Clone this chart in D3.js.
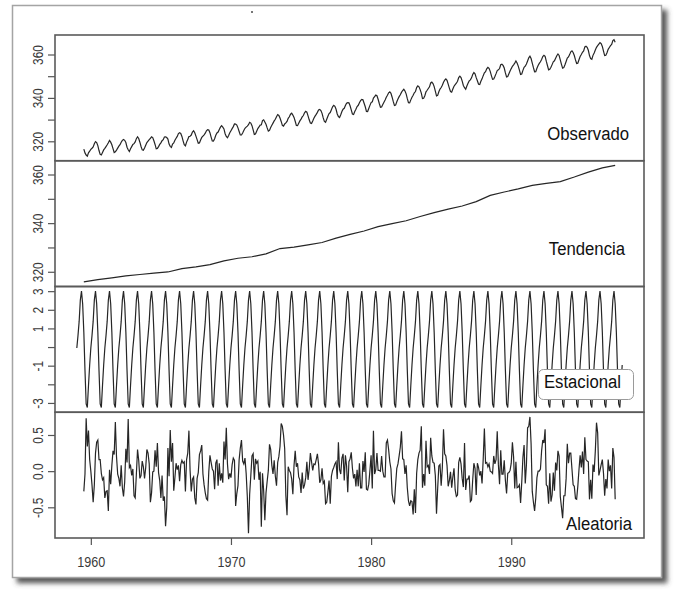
<!DOCTYPE html>
<html>
<head>
<meta charset="utf-8">
<script src="https://cdn.jsdelivr.net/npm/d3@7"></script>
<style>
body { margin: 0; background: #fff; }
text { font-family: "Liberation Sans", Arial, sans-serif; }
</style>
</head>
<body>
<script>
let width = 696
let height = 592

// serie mensual, enero 1959 - diciembre 1997
const inicio = 1959
const fin = 1997 + 11 / 12

// CO2 observado (ppm), una fila por año
const co2 = [
  315.42, 316.31, 316.50, 317.56, 318.13, 318.00, 316.39, 314.65, 313.68, 313.18, 314.66, 315.43,
  316.27, 316.81, 317.42, 318.87, 319.87, 319.43, 318.01, 315.74, 314.00, 313.68, 314.84, 316.03,
  316.73, 317.54, 318.38, 319.31, 320.42, 319.61, 318.42, 316.63, 314.83, 315.16, 315.94, 316.85,
  317.78, 318.40, 319.53, 320.42, 320.85, 320.45, 319.45, 317.25, 316.11, 315.27, 316.53, 317.53,
  318.58, 318.92, 319.70, 321.22, 322.08, 321.31, 319.58, 317.61, 316.05, 315.83, 316.91, 318.20,
  319.41, 320.07, 320.74, 321.40, 322.06, 321.73, 320.27, 318.54, 316.54, 316.71, 317.53, 318.55,
  319.27, 320.28, 320.73, 321.97, 322.00, 321.71, 321.05, 318.71, 317.66, 317.14, 318.70, 319.25,
  320.46, 321.43, 322.23, 323.54, 323.91, 323.59, 322.24, 320.20, 318.48, 317.94, 319.63, 320.87,
  322.17, 322.34, 322.88, 324.25, 324.83, 323.93, 322.38, 320.76, 319.10, 319.24, 320.56, 321.80,
  322.40, 322.99, 323.73, 324.86, 325.40, 325.20, 323.98, 321.95, 320.18, 320.09, 321.16, 322.74,
  323.83, 324.26, 325.47, 326.50, 327.21, 326.54, 325.72, 323.50, 322.22, 321.62, 322.69, 323.95,
  324.89, 325.82, 326.77, 327.97, 327.91, 327.50, 326.18, 324.53, 322.93, 322.90, 323.85, 324.96,
  326.01, 326.51, 327.01, 327.62, 328.76, 328.40, 327.20, 325.27, 323.20, 323.40, 324.63, 325.85,
  326.60, 327.47, 327.58, 329.56, 329.90, 328.92, 327.88, 326.16, 324.68, 325.04, 326.34, 327.39,
  328.37, 329.40, 330.14, 331.33, 332.31, 331.90, 330.70, 329.15, 327.35, 327.02, 327.99, 328.48,
  329.18, 330.55, 331.32, 332.48, 332.92, 332.08, 331.01, 329.23, 327.27, 327.21, 328.29, 329.41,
  330.23, 331.25, 331.87, 333.14, 333.80, 333.43, 331.73, 329.90, 328.40, 328.17, 329.32, 330.59,
  331.58, 332.39, 333.33, 334.41, 334.71, 334.17, 332.89, 330.77, 329.14, 328.78, 330.14, 331.52,
  332.75, 333.24, 334.53, 335.90, 336.57, 336.10, 334.76, 332.59, 331.42, 330.98, 332.24, 333.68,
  334.80, 335.22, 336.47, 337.59, 337.84, 337.72, 336.37, 334.51, 332.60, 332.38, 333.75, 334.78,
  336.05, 336.59, 337.79, 338.71, 339.30, 339.12, 337.56, 335.92, 333.75, 333.70, 335.12, 336.56,
  337.84, 338.19, 339.91, 340.60, 341.29, 341.00, 339.39, 337.43, 335.72, 335.84, 336.93, 338.04,
  339.06, 340.30, 341.21, 342.33, 342.74, 342.08, 340.32, 338.26, 336.52, 336.68, 338.19, 339.44,
  340.57, 341.44, 342.53, 343.39, 343.96, 343.18, 341.88, 339.65, 337.81, 337.69, 339.09, 340.32,
  341.20, 342.35, 342.93, 344.77, 345.58, 345.14, 343.81, 342.21, 339.69, 339.82, 340.98, 342.82,
  343.52, 344.33, 345.11, 346.88, 347.25, 346.62, 345.22, 343.11, 340.90, 341.18, 342.80, 344.04,
  344.79, 345.82, 347.25, 348.17, 348.74, 348.07, 346.38, 344.51, 342.92, 342.62, 344.06, 345.38,
  346.11, 346.78, 347.68, 349.37, 350.03, 349.37, 347.76, 345.73, 344.68, 343.99, 345.48, 346.72,
  347.84, 348.29, 349.23, 350.80, 351.66, 351.07, 349.33, 347.92, 346.27, 346.18, 347.64, 348.78,
  350.25, 351.54, 352.05, 353.41, 354.04, 353.62, 352.22, 350.27, 348.55, 348.72, 349.91, 351.18,
  352.60, 352.92, 353.53, 355.26, 355.52, 354.97, 353.75, 351.52, 349.64, 349.83, 351.14, 352.37,
  353.50, 354.55, 355.23, 356.04, 357.00, 356.07, 354.67, 352.76, 350.82, 351.04, 352.69, 354.07,
  354.59, 355.63, 357.03, 358.48, 359.22, 358.12, 356.06, 353.92, 352.05, 352.11, 353.64, 354.89,
  355.88, 356.63, 357.72, 359.07, 359.58, 359.17, 356.94, 354.92, 352.94, 353.23, 354.09, 355.33,
  356.63, 357.10, 358.32, 359.41, 360.23, 359.55, 357.53, 355.48, 353.67, 353.95, 355.30, 356.78,
  358.34, 358.89, 359.95, 361.25, 361.67, 360.94, 359.55, 357.49, 355.84, 356.00, 357.59, 359.05,
  359.98, 361.03, 361.66, 363.48, 363.82, 363.30, 361.94, 359.50, 358.11, 357.80, 359.61, 360.74,
  362.09, 363.29, 364.06, 364.76, 365.45, 365.01, 363.70, 361.54, 359.51, 359.65, 360.80, 362.38,
  363.23, 364.06, 364.61, 366.40, 366.84, 365.68, 364.52, 362.57, 360.24, 360.83, 362.49, 364.34
]

// componente estacional: enero .. diciembre
const estacional = [-0.0536, 0.6106, 1.3756, 2.5168, 3.0001, 2.3267,
                    0.8115, -1.2527, -3.0558, -3.2497, -2.0614, -0.9682]

// tendencia a mitad de cada año (julio 1959 .. julio 1996, y junio 1997)
const tendencia = [315.86, 316.77, 317.53, 318.33, 318.87, 319.46, 319.92, 321.28, 322.03, 322.95,
                   324.50, 325.57, 326.18, 327.37, 329.55, 330.12, 331.04, 332.04, 333.82, 335.39,
                   336.76, 338.57, 339.82, 340.99, 342.71, 344.30, 345.78, 347.05, 348.85, 351.41,
                   352.79, 354.08, 355.53, 356.32, 357.07, 358.95, 361.00, 362.73, 363.74]

// componente aleatoria, julio 1959 - junio 1997 (una fila = jul..jun)
const aleatoria = [
  -0.28, -0.04, 0.73, 0.34, 0.56, 0.16, 0.00, -0.19, -0.43, -0.19, 0.25, 0.40,
  0.43, 0.16, 0.16, -0.03, -0.12, -0.09, -0.37, -0.28, -0.27, -0.55, 0.02, -0.18,
  0.08, 0.28, 0.23, 0.68, 0.20, -0.04, -0.10, -0.21, 0.08, -0.23, -0.35, -0.15,
  0.31, 0.12, 0.72, 0.05, 0.08, -0.06, 0.03, -0.34, -0.37, -0.04, 0.30, 0.15,
  -0.10, -0.06, 0.14, 0.06, -0.10, 0.05, 0.30, 0.25, 0.10, -0.43, -0.30, -0.01,
  0.00, 0.29, 0.06, 0.39, -0.02, -0.13, -0.37, -0.06, -0.41, -0.35, -0.76, -0.50,
  0.32, -0.07, 0.57, 0.13, 0.39, -0.27, -0.09, 0.11, 0.02, 0.08, -0.14, 0.09,
  0.15, 0.11, 0.13, -0.28, 0.16, 0.25, 0.56, 0.01, -0.28, -0.11, -0.08, -0.37,
  -0.46, -0.10, -0.02, 0.23, 0.28, 0.36, -0.04, -0.19, -0.30, -0.38, -0.40, -0.01,
  0.22, 0.12, 0.03, 0.00, -0.25, 0.11, 0.16, -0.20, 0.11, -0.13, -0.03, -0.16,
  0.41, 0.16, 0.60, 0.10, -0.11, -0.03, -0.09, 0.09, 0.18, 0.15, -0.48, -0.31,
  -0.20, 0.16, 0.32, 0.43, 0.14, 0.10, 0.18, -0.03, -0.35, -0.86, -0.32, -0.06,
  0.21, 0.24, -0.12, 0.17, 0.11, 0.14, -0.12, -0.01, -0.77, -0.03, -0.27, -0.68,
  -0.30, -0.14, 0.01, 0.37, 0.30, 0.08, -0.04, 0.15, -0.07, -0.20, 0.12, 0.20,
  0.34, 0.66, 0.62, 0.50, 0.31, -0.34, -0.61, 0.06, 0.01, -0.02, -0.11, -0.32,
  0.08, 0.28, 0.06, 0.11, -0.08, -0.12, -0.30, -0.02, -0.24, -0.19, -0.09, 0.13,
  -0.12, 0.03, 0.25, 0.13, 0.01, 0.10, 0.09, 0.16, 0.24, 0.10, -0.16, -0.12,
  0.04, -0.17, -0.14, -0.45, -0.43, -0.29, -0.13, -0.45, -0.07, 0.01, 0.05, 0.10,
  0.13, -0.11, 0.40, 0.02, -0.04, 0.18, 0.24, -0.13, 0.22, 0.07, -0.29, 0.13,
  0.17, 0.26, 0.04, -0.10, -0.04, -0.21, 0.02, -0.21, 0.11, -0.23, -0.23, 0.14,
  -0.01, 0.26, -0.25, -0.26, -0.18, 0.01, 0.22, -0.24, 0.56, -0.04, 0.02, 0.25,
  0.01, 0.01, 0.00, 0.21, 0.00, -0.08, -0.08, 0.39, 0.43, 0.30, 0.13, 0.03,
  -0.31, -0.41, -0.44, -0.18, 0.04, 0.10, 0.21, 0.33, 0.55, 0.17, 0.16, -0.04,
  0.08, -0.23, -0.41, -0.48, -0.41, -0.42, -0.60, -0.25, -0.58, -0.03, 0.16, 0.25,
  0.29, 0.62, -0.23, -0.04, -0.20, 0.42, 0.06, 0.08, -0.04, 0.46, 0.21, 0.12,
  0.11, -0.06, -0.59, -0.24, 0.07, 0.09, -0.20, 0.05, 0.58, 0.24, 0.21, 0.08,
  -0.21, -0.13, -0.01, -0.23, -0.08, 0.04, -0.26, -0.35, -0.33, 0.12, 0.19, 0.10,
  -0.10, -0.22, 0.39, -0.26, -0.11, -0.11, -0.06, -0.42, -0.40, -0.12, 0.11, 0.04,
  -0.33, 0.11, 0.05, -0.06, 0.00, -0.17, 0.17, 0.59, 0.11, 0.12, 0.06, 0.10,
  0.00, -0.01, -0.03, 0.21, 0.10, 0.16, 0.55, 0.09, -0.18, 0.29, -0.04, -0.04,
  0.15, -0.13, -0.31, -0.03, -0.02, 0.01, 0.11, 0.40, 0.20, -0.24, 0.13, -0.23,
  -0.22, -0.19, -0.44, -0.15, 0.19, 0.36, -0.17, 0.09, 0.60, 0.62, 0.75, 0.38,
  -0.28, -0.43, -0.55, -0.37, -0.09, 0.00, 0.00, 0.03, 0.28, 0.43, 0.39, 0.58,
  -0.19, -0.21, -0.45, -0.03, -0.42, -0.33, -0.02, -0.27, 0.12, 0.01, 0.28, 0.21,
  -0.35, -0.50, -0.65, -0.34, -0.34, -0.10, 0.38, 0.11, 0.25, 0.25, 0.03, -0.19,
  -0.21, -0.38, -0.39, -0.21, 0.02, 0.22, 0.05, 0.27, -0.04, 0.47, 0.16, 0.14,
  0.13, -0.39, -0.12, -0.38, 0.09, -0.01, 0.28, 0.67, 0.53, -0.06, 0.01, 0.09,
  0.16, -0.03, -0.34, -0.11, -0.24, 0.16, 0.00, 0.08, -0.24, 0.32, 0.19, -0.39
]

const nombres = ["Observado", "Tendencia", "Estacional", "Aleatoria"]
const ticksCo2 = [320, 330, 340, 350, 360]
const etiqCo2 = [320, 340, 360]
const ticksEst = [-3, -2, -1, 0, 1, 2, 3]
const etiqEst = [3, 2, 1, -1, -3]
const ticksAle = [-0.5, 0, 0.5]
const ticksX = [1960, 1970, 1980, 1990]

// series con su tiempo
let serieObs = co2.slice(6, 462).map(function (v, i) { return {t: inicio + (i + 6) / 12, v: v} })
let serieTen = tendencia.map(function (v, i) {
  return {t: i < 38 ? inicio + 0.5 + i : inicio + 38 + 5 / 12, v: v}
})
let serieEst = co2.map(function (d, i) { return {t: inicio + i / 12, v: estacional[i % 12]} })
let serieAle = aleatoria.map(function (v, i) { return {t: inicio + (i + 6) / 12, v: v} })

let paneles = [
  {nombre: nombres[0], datos: serieObs, ticks: ticksCo2, etiq: etiqCo2, fmt: String, lx: 629, ly: 140},
  {nombre: nombres[1], datos: serieTen, ticks: ticksCo2, etiq: etiqCo2, fmt: String, lx: 625, ly: 255},
  {nombre: nombres[2], datos: serieEst, ticks: ticksEst, etiq: etiqEst, fmt: String, lx: 621, ly: 388, caja: true},
  {nombre: nombres[3], datos: serieAle, ticks: ticksAle, etiq: ticksAle, fmt: function (d) { return d.toFixed(1) }, lx: 632, ly: 530}
]

let svg = d3.select("body")
  .append("svg")
  .attr("width", width)
  .attr("height", height)

let filtro = svg.append("defs").append("filter")
  .attr("id", "sombra")
  .attr("x", "-5%").attr("y", "-5%")
  .attr("width", "115%").attr("height", "115%")
filtro.append("feDropShadow")
  .attr("dx", 5).attr("dy", 5)
  .attr("stdDeviation", 2.5)
  .attr("flood-color", "#4a4a4a")
  .attr("flood-opacity", 0.9)

svg.append("rect")
  .attr("width", width).attr("height", height)
  .attr("fill", "#fff")

// marco de la ventana
svg.append("rect")
  .attr("x", 12.5).attr("y", 5.5)
  .attr("width", 649).attr("height", 572)
  .attr("fill", "#fff")
  .attr("stroke", "#a4a4a4")
  .attr("stroke-width", 1.5)
  .attr("filter", "url(#sombra)")

svg.append("rect")
  .attr("x", 251).attr("y", 11)
  .attr("width", 2).attr("height", 2)
  .attr("fill", "#777")

let izq = 55, der = 644, arriba = 35, abajo = 538
let alto = (abajo - arriba) / 4

let padX = 0.04 * (fin - inicio)
let x = d3.scaleLinear()
  .domain([inicio - padX, fin + padX])
  .range([izq, der])

paneles.forEach(function (p, i) {
  let y0 = arriba + i * alto
  let y1 = y0 + alto
  let ext = d3.extent(p.datos, function (d) { return d.v })
  let pad = 0.04 * (ext[1] - ext[0])
  let y = d3.scaleLinear()
    .domain([ext[0] - pad, ext[1] + pad])
    .range([y1, y0])

  let g = svg.append("g").attr("class", "panel")

  let linea = d3.line()
    .x(function (d) { return x(d.t) })
    .y(function (d) { return y(d.v) })

  g.append("path")
    .datum(p.datos)
    .attr("d", linea)
    .attr("fill", "none")
    .attr("stroke", "#262626")
    .attr("stroke-width", 1.2)

  let eje = g.append("g")
    .attr("transform", "translate(" + izq + ",0)")
    .call(d3.axisLeft(y)
      .tickValues(p.ticks)
      .tickSize(7)
      .tickFormat(function (d) { return p.etiq.indexOf(d) >= 0 ? p.fmt(d) : "" }))
  eje.select(".domain").remove()
  eje.selectAll("line").attr("stroke", "#555").attr("stroke-width", 1.2)
  eje.selectAll("text")
    .attr("transform", "rotate(-90) scale(0.85,1)")
    .attr("x", 0).attr("y", -12).attr("dy", 0)
    .attr("text-anchor", "middle")
    .attr("font-size", "14px")
    .attr("fill", "#3a3a3a")

  g.append("rect")
    .attr("x", izq).attr("y", y0)
    .attr("width", der - izq).attr("height", alto)
    .attr("fill", "none")
    .attr("stroke", "#5a5a5a")
    .attr("stroke-width", 1.6)

  if (p.caja) {
    g.append("rect")
      .attr("x", 538.5).attr("y", 369.5)
      .attr("width", 95).attr("height", 30)
      .attr("rx", 5)
      .attr("fill", "#fff")
      .attr("stroke", "#9a9a9a")
      .attr("stroke-width", 1)
  }

  g.append("text")
    .attr("transform", "translate(" + p.lx + "," + p.ly + ") scale(0.88,1)")
    .attr("text-anchor", "end")
    .attr("font-size", "19px")
    .attr("fill", "#111")
    .text(p.nombre)
})

let ejeX = svg.append("g")
  .attr("transform", "translate(0," + abajo + ")")
  .call(d3.axisBottom(x)
    .tickValues(ticksX)
    .tickSize(7)
    .tickFormat(d3.format("d")))
ejeX.select(".domain").remove()
ejeX.selectAll("line").attr("stroke", "#555").attr("stroke-width", 1.2)
ejeX.selectAll("text")
  .attr("transform", "translate(0,29) scale(0.9,1)")
  .attr("y", 0).attr("dy", 0)
  .attr("font-size", "14px")
  .attr("fill", "#3a3a3a")
</script>
</body>
</html>
